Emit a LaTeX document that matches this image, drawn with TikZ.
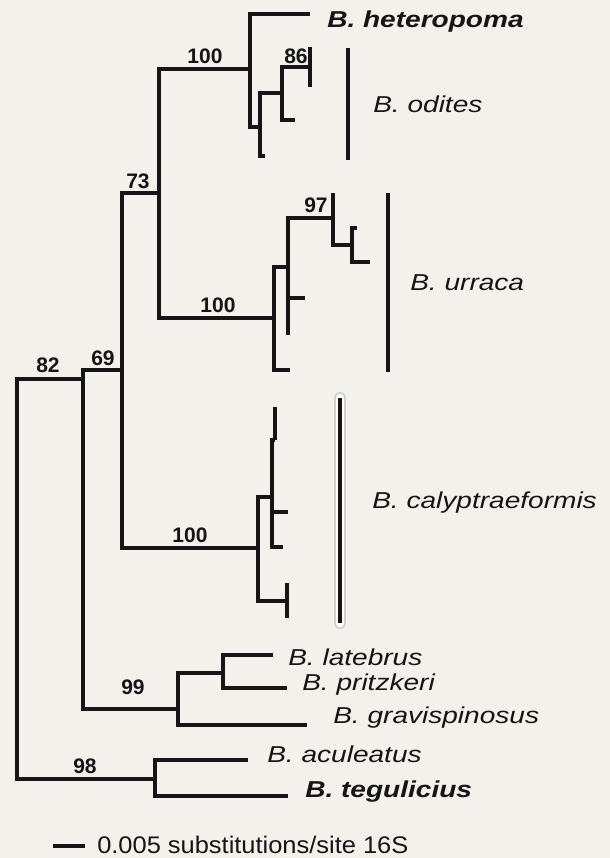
\documentclass[tikz,border=0pt]{standalone}
\usepackage{fontspec}
\setmainfont{Liberation Sans}
\definecolor{paper}{RGB}{244,241,236}
\definecolor{ink}{RGB}{22,20,20}
\tikzset{
  branch/.style={draw=ink, line width=2.3pt},
  cladebar/.style={draw=ink, line width=3pt},
  boot/.style={inner sep=0.75pt, text=ink, font=\fontsize{15.75}{18}\selectfont\bfseries},
  taxon/.style={anchor=base west, inner sep=0pt, text=ink, font=\fontsize{17.25}{20}\selectfont\itshape},
}
\newcommand{\widetx}[2][1.22]{\scalebox{#1}[1]{#2}}

\begin{document}
\begin{tikzpicture}[x=0.75pt,y=0.75pt,yscale=-1,xscale=1]
%set diagram to 610 x 858
\fill[paper] (0,0) rectangle (610,858);
\useasboundingbox (0,0) rectangle (610,858);

%Tree nodes
\coordinate (r) at (17,579);
\coordinate (n82) at (83,379);
\coordinate (n98) at (155,779);
\coordinate (n69) at (122,370);
\coordinate (n99) at (178,709);
\coordinate (n73) at (159,193);
\coordinate (n100c) at (258,548);
\coordinate (n100a) at (250,69);
\coordinate (n100b) at (274,318);
\coordinate (m1) at (260,127);
\coordinate (m2) at (282,93);
\coordinate (n86) at (310,67);
\coordinate (m3) at (288,267);
\coordinate (n97) at (333,218);
\coordinate (m4) at (352,245);
\coordinate (m5) at (272,497);
\coordinate (m7) at (275,440);
\coordinate (m6) at (287,601);
\coordinate (m8) at (223,673);

%Tips
\coordinate (tHet) at (310,14);
\coordinate (tA1) at (265,156);
\coordinate (tA2) at (295,120);
\coordinate (tA3) at (310,47);
\coordinate (tA4) at (310,87);
\coordinate (tB1) at (290,370);
\coordinate (tB2) at (305,298);
\coordinate (tB3) at (288,335);
\coordinate (tB4) at (333,193);
\coordinate (tB5) at (357,228);
\coordinate (tB6) at (370,262);
\coordinate (tC1) at (275,407);
\coordinate (tC2) at (288,512);
\coordinate (tC3) at (283,547);
\coordinate (tC4) at (287,583);
\coordinate (tC5) at (287,618);
\coordinate (tLat) at (273,655);
\coordinate (tPri) at (287,688);
\coordinate (tGra) at (307,725);
\coordinate (tAcu) at (248,760);
\coordinate (tTeg) at (288,796);

%Straight Lines: branches
\draw[branch] (r) |- (n82);
\draw[branch] (r) |- (n98);
\draw[branch] (n82) |- (n69);
\draw[branch] (n82) |- (n99);
\draw[branch] (n69) |- (n73);
\draw[branch] (n69) |- (n100c);
\draw[branch] (n73) |- (n100a);
\draw[branch] (n73) |- (n100b);
\draw[branch] (n100a) |- (tHet);
\draw[branch] (n100a) |- (m1);
\draw[branch] (m1) |- (tA1);
\draw[branch] (m1) |- (m2);
\draw[branch] (m2) |- (tA2);
\draw[branch] (m2) |- (n86);
\draw[branch] (n86) |- (tA3);
\draw[branch] (n86) |- (tA4);
\draw[branch] (n100b) |- (m3);
\draw[branch] (n100b) |- (tB1);
\draw[branch] (m3) |- (n97);
\draw[branch] (m3) |- (tB2);
\draw[branch] (m3) |- (tB3);
\draw[branch] (n97) |- (tB4);
\draw[branch] (n97) |- (m4);
\draw[branch] (m4) |- (tB5);
\draw[branch] (m4) |- (tB6);
\draw[branch] (n100c) |- (m5);
\draw[branch] (n100c) |- (m6);
\draw[branch] (m5) |- (m7);
\draw[branch] (m7) |- (tC1);
\draw[branch] (m5) |- (tC2);
\draw[branch] (m5) |- (tC3);
\draw[branch] (m6) |- (tC4);
\draw[branch] (m6) |- (tC5);
\draw[branch] (n99) |- (m8);
\draw[branch] (n99) |- (tGra);
\draw[branch] (m8) |- (tLat);
\draw[branch] (m8) |- (tPri);
\draw[branch] (n98) |- (tAcu);
\draw[branch] (n98) |- (tTeg);

%Clade bars
\coordinate (odTop) at (348,48);
\coordinate (odBot) at (348,160);
\coordinate (urTop) at (388,193);
\coordinate (urBot) at (388,372);
\coordinate (caTop) at (340,398);
\coordinate (caBot) at (340,623);
\draw[cladebar] (odTop) -- (odBot);
\draw[cladebar] (urTop) -- (urBot);
\draw[line width=9pt, draw=black!18, line cap=round] (caTop) -- (caBot);
\draw[line width=6.5pt, draw=white, line cap=round] (caTop) -- (caBot);
\draw[cladebar] (caTop) -- (caBot);

% Text Node
\draw (48,365) node [boot] (b82) {82};
% Text Node
\draw (103,358) node [boot] (b69) {69};
% Text Node
\draw (138,181) node [boot] (b73) {73};
% Text Node
\draw (205,56) node [boot] (b100a) {100};
% Text Node
\draw (296,56) node [boot] (b86) {86};
% Text Node
\draw (218,305) node [boot] (b100b) {100};
% Text Node
\draw (316,205) node [boot] (b97) {97};
% Text Node
\draw (190,535) node [boot] (b100c) {100};
% Text Node
\draw (133,687) node [boot] (b99) {99};
% Text Node
\draw (85,766) node [boot] (b98) {98};

% Text Node
\draw (327,27) node [taxon] (lHet) {\widetx{\bfseries B. heteropoma}};
% Text Node
\draw (373,112) node [taxon] (lOd) {\widetx{B. odites}};
% Text Node
\draw (410,290) node [taxon] (lUr) {\widetx{B. urraca}};
% Text Node
\draw (372,508) node [taxon] (lCa) {\widetx{B. calyptraeformis}};
% Text Node
\draw (288,665) node [taxon] (lLat) {\widetx{B. latebrus}};
% Text Node
\draw (302,690) node [taxon] (lPri) {\widetx{B. pritzkeri}};
% Text Node
\draw (333,723) node [taxon] (lGra) {\widetx{B. gravispinosus}};
% Text Node
\draw (267,762) node [taxon] (lAcu) {\widetx{B. aculeatus}};
% Text Node
\draw (305,797) node [taxon] (lTeg) {\widetx{\bfseries B. tegulicius}};

%Scale bar
\coordinate (sbL) at (53,846);
\coordinate (sbR) at (85,846);
\draw[ink, line width=3pt] (sbL) -- (sbR);
% Text Node
\draw (97,853) node [taxon, font=\fontsize{18}{20}\selectfont] (lScale) {\widetx[1.06]{0.005 substitutions/site 16S}};
\end{tikzpicture}
\end{document}
